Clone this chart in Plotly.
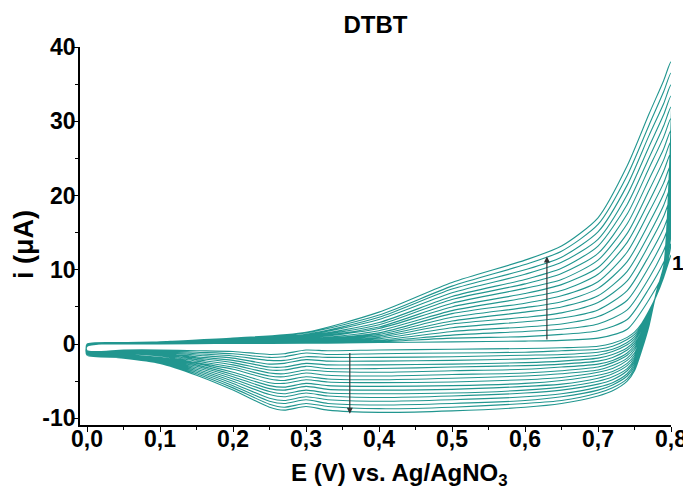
import plotly.graph_objects as go

# Potentials (V vs Ag/AgNO3)
E_forward = [0.00, 0.10, 0.20, 0.30, 0.40, 0.50, 0.60, 0.65, 0.70, 0.74, 0.77, 0.79, 0.80]
E_reverse = [0.795, 0.79, 0.78, 0.77, 0.76, 0.75, 0.74, 0.72, 0.70, 0.65, 0.60, 0.50,
             0.40, 0.33, 0.30, 0.27, 0.25, 0.20, 0.15, 0.10, 0.05, 0.00]

# Anodic (forward) currents, µA, cycles 1..18
fwd_c01 = [0.0, 0.0, 0.1, 0.1, 0.2, 0.3, 0.4, 0.5, 0.8, 2.0, 6.0, 9.5, 12.0]
fwd_c02 = [0.0, 0.0, 0.1, 0.1, 0.3, 0.8, 1.0, 1.3, 1.8, 3.3, 7.5, 11.0, 13.5]
fwd_c03 = [-0.1, 0.0, 0.1, 0.2, 0.4, 1.2, 1.7, 2.0, 2.7, 4.6, 8.9, 12.6, 15.1]
fwd_c04 = [-0.1, 0.0, 0.1, 0.2, 0.5, 1.7, 2.3, 2.7, 3.7, 5.9, 10.4, 14.1, 16.6]
fwd_c05 = [-0.1, 0.0, 0.1, 0.3, 0.7, 2.2, 3.0, 3.5, 4.6, 7.2, 11.9, 15.6, 18.1]
fwd_c06 = [-0.1, 0.1, 0.2, 0.3, 0.9, 2.7, 3.6, 4.2, 5.6, 8.5, 13.4, 17.2, 19.7]
fwd_c07 = [-0.1, 0.1, 0.2, 0.4, 1.1, 3.1, 4.3, 5.0, 6.5, 9.8, 14.8, 18.7, 21.2]
fwd_c08 = [-0.2, 0.1, 0.3, 0.5, 1.3, 3.6, 4.9, 5.7, 7.5, 11.1, 16.3, 20.2, 22.7]
fwd_c09 = [-0.2, 0.1, 0.3, 0.6, 1.5, 4.1, 5.5, 6.5, 8.4, 12.4, 17.8, 21.7, 24.2]
fwd_c10 = [-0.2, 0.1, 0.3, 0.7, 1.8, 4.5, 6.2, 7.2, 9.4, 13.7, 19.2, 23.3, 25.8]
fwd_c11 = [-0.2, 0.1, 0.4, 0.8, 2.1, 5.0, 6.8, 8.0, 10.3, 14.9, 20.7, 24.8, 27.3]
fwd_c12 = [-0.2, 0.2, 0.4, 0.9, 2.3, 5.5, 7.5, 8.7, 11.3, 16.2, 22.2, 26.3, 28.8]
fwd_c13 = [-0.2, 0.2, 0.5, 1.0, 2.6, 6.0, 8.1, 9.5, 12.2, 17.5, 23.7, 27.9, 30.4]
fwd_c14 = [-0.3, 0.2, 0.6, 1.1, 2.9, 6.4, 8.7, 10.2, 13.2, 18.8, 25.1, 29.4, 31.9]
fwd_c15 = [-0.3, 0.2, 0.6, 1.2, 3.3, 6.9, 9.4, 11.0, 14.1, 20.1, 26.6, 30.9, 33.4]
fwd_c16 = [-0.3, 0.3, 0.7, 1.3, 3.6, 7.4, 10.0, 11.7, 15.1, 21.4, 28.1, 32.4, 34.9]
fwd_c17 = [-0.3, 0.3, 0.7, 1.5, 3.9, 7.8, 10.7, 12.5, 16.1, 22.7, 29.5, 34.0, 36.5]
fwd_c18 = [-0.3, 0.3, 0.8, 1.6, 4.3, 8.3, 11.3, 13.2, 17.0, 24.0, 31.0, 35.5, 38.0]

# Cathodic (reverse) currents, µA, cycles 1..18
rev_c01 = [10.5, 9.0, 6.5, 4.5, 2.8, 1.6, 0.9, 0.1, -0.3, -0.5, -0.6, -0.7, -0.8, -0.9, -0.8, -1.3, -1.4, -1.0, -0.9, -0.8, -0.8, -0.9]
rev_c02 = [10.9, 9.1, 6.5, 4.4, 2.6, 1.3, 0.6, -0.3, -0.7, -0.9, -1.1, -1.2, -1.3, -1.4, -1.2, -1.7, -1.8, -1.3, -1.1, -0.9, -0.9, -0.9]
rev_c03 = [11.3, 9.2, 6.6, 4.3, 2.4, 1.0, 0.2, -0.7, -1.1, -1.4, -1.5, -1.7, -1.8, -1.8, -1.7, -2.2, -2.2, -1.6, -1.3, -1.0, -0.9, -1.0]
rev_c04 = [11.6, 9.3, 6.6, 4.1, 2.2, 0.7, -0.1, -1.0, -1.5, -1.8, -2.0, -2.2, -2.3, -2.3, -2.1, -2.6, -2.7, -1.9, -1.5, -1.1, -1.0, -1.0]
rev_c05 = [12.0, 9.4, 6.6, 4.0, 2.0, 0.4, -0.5, -1.4, -1.9, -2.3, -2.5, -2.7, -2.8, -2.8, -2.6, -3.1, -3.1, -2.2, -1.7, -1.2, -1.1, -1.0]
rev_c06 = [12.4, 9.4, 6.6, 3.9, 1.7, 0.1, -0.8, -1.8, -2.3, -2.7, -2.9, -3.1, -3.3, -3.3, -3.0, -3.5, -3.5, -2.5, -1.9, -1.3, -1.1, -1.1]
rev_c07 = [12.8, 9.5, 6.7, 3.8, 1.5, -0.2, -1.2, -2.2, -2.7, -3.1, -3.4, -3.6, -3.8, -3.7, -3.5, -4.0, -3.9, -2.8, -2.1, -1.4, -1.2, -1.1]
rev_c08 = [13.2, 9.6, 6.7, 3.7, 1.3, -0.5, -1.5, -2.5, -3.1, -3.6, -3.9, -4.1, -4.3, -4.2, -3.9, -4.4, -4.3, -3.1, -2.3, -1.5, -1.3, -1.1]
rev_c09 = [13.6, 9.7, 6.7, 3.6, 1.1, -0.8, -1.9, -2.9, -3.5, -4.0, -4.3, -4.6, -4.8, -4.7, -4.4, -4.9, -4.7, -3.4, -2.5, -1.6, -1.3, -1.2]
rev_c10 = [13.9, 9.8, 6.8, 3.4, 0.9, -1.2, -2.2, -3.3, -3.8, -4.5, -4.8, -5.1, -5.2, -5.1, -4.8, -5.3, -5.2, -3.8, -2.6, -1.8, -1.4, -1.2]
rev_c11 = [14.3, 9.9, 6.8, 3.3, 0.7, -1.5, -2.6, -3.7, -4.2, -4.9, -5.3, -5.6, -5.7, -5.6, -5.3, -5.8, -5.6, -4.1, -2.8, -1.9, -1.5, -1.3]
rev_c12 = [14.7, 10.0, 6.8, 3.2, 0.5, -1.8, -2.9, -4.0, -4.6, -5.4, -5.7, -6.1, -6.2, -6.1, -5.7, -6.2, -6.0, -4.4, -3.0, -2.0, -1.5, -1.3]
rev_c13 = [15.1, 10.1, 6.8, 3.1, 0.3, -2.1, -3.3, -4.4, -5.0, -5.8, -6.2, -6.6, -6.7, -6.6, -6.2, -6.7, -6.4, -4.7, -3.2, -2.1, -1.6, -1.3]
rev_c14 = [15.5, 10.1, 6.9, 3.0, 0.0, -2.4, -3.6, -4.8, -5.4, -6.2, -6.6, -7.0, -7.2, -7.0, -6.6, -7.1, -6.8, -5.0, -3.4, -2.2, -1.6, -1.4]
rev_c15 = [15.8, 10.2, 6.9, 2.8, -0.2, -2.7, -4.0, -5.2, -5.8, -6.7, -7.1, -7.5, -7.7, -7.5, -7.1, -7.6, -7.3, -5.3, -3.6, -2.3, -1.7, -1.4]
rev_c16 = [16.2, 10.3, 6.9, 2.7, -0.4, -3.0, -4.3, -5.5, -6.2, -7.1, -7.6, -8.0, -8.2, -8.0, -7.5, -8.0, -7.7, -5.6, -3.8, -2.4, -1.8, -1.4]
rev_c17 = [16.6, 10.4, 7.0, 2.6, -0.6, -3.3, -4.7, -5.9, -6.6, -7.6, -8.0, -8.5, -8.7, -8.4, -8.0, -8.5, -8.1, -5.9, -4.0, -2.5, -1.8, -1.5]
rev_c18 = [17.0, 10.5, 7.0, 2.5, -0.8, -3.6, -5.0, -6.3, -7.0, -8.0, -8.5, -9.0, -9.2, -8.9, -8.4, -8.9, -8.5, -6.2, -4.2, -2.6, -1.9, -1.5]

x_tickvals = [0.0, 0.1, 0.2, 0.3, 0.4, 0.5, 0.6, 0.7, 0.8]
x_ticktext = ["0,0", "0,1", "0,2", "0,3", "0,4", "0,5", "0,6", "0,7", "0,8"]
y_tickvals = [-10, 0, 10, 20, 30, 40]
y_ticktext = ["-10", "0", "10", "20", "30", "40"]

forward_cycles = [fwd_c01, fwd_c02, fwd_c03, fwd_c04, fwd_c05, fwd_c06, fwd_c07, fwd_c08, fwd_c09,
                  fwd_c10, fwd_c11, fwd_c12, fwd_c13, fwd_c14, fwd_c15, fwd_c16, fwd_c17, fwd_c18]
reverse_cycles = [rev_c01, rev_c02, rev_c03, rev_c04, rev_c05, rev_c06, rev_c07, rev_c08, rev_c09,
                  rev_c10, rev_c11, rev_c12, rev_c13, rev_c14, rev_c15, rev_c16, rev_c17, rev_c18]

LINE = "#21968f"
FONT = "Liberation Sans, Arial, sans-serif"

x_all, y_all = [], []
for f, r in zip(forward_cycles, reverse_cycles):
    x_all += E_forward + E_reverse
    y_all += f + r

fig = go.Figure()
fig.add_trace(go.Scatter(x=x_all, y=y_all, mode="lines",
                         line=dict(color=LINE, width=1.1, shape="spline", smoothing=0.7),
                         hoverinfo="skip", showlegend=False))

# arrows
fig.add_annotation(x=0.63, y=11.8, ax=0.63, ay=0.4, xref="x", yref="y", axref="x", ayref="y",
                   showarrow=True, arrowhead=2, arrowsize=1, arrowwidth=1.2, arrowcolor="#333333", text="")
fig.add_annotation(x=0.36, y=-9.4, ax=0.36, ay=-1.0, xref="x", yref="y", axref="x", ayref="y",
                   showarrow=True, arrowhead=2, arrowsize=1, arrowwidth=1.2, arrowcolor="#333333", text="")
# cycle label (paper coords so it is not hidden outside the x range)
fig.add_annotation(x=1.0, y=0.429, xref="paper", yref="paper", text="1", showarrow=False,
                   xanchor="left", yanchor="middle", xshift=0, borderpad=0,
                   font=dict(family=FONT, size=21, color="black", weight="bold"))

# axis titles as annotations
fig.add_annotation(x=-0.0948, y=0.479, xref="paper", yref="paper", text="i (μA)", textangle=-90,
                   xanchor="center", yanchor="middle", showarrow=False,
                   font=dict(family=FONT, size=27, color="black", weight="bold"))
fig.add_annotation(x=0.54, y=-0.132, xref="paper", yref="paper",
                   text="E (V) vs. Ag/AgNO<sub>3</sub>", showarrow=False,
                   xanchor="center", yanchor="middle",
                   font=dict(family=FONT, size=24, color="black", weight="bold"))

# the page body adds an 8 px offset, so the figure is drawn 8 px smaller
fig.update_layout(
    width=683, height=483,
    margin=dict(l=72, r=20, t=39, b=66, autoexpand=False),
    paper_bgcolor="white", plot_bgcolor="white",
    title=dict(text="DTBT", x=0.5, xref="paper", xanchor="center", y=1 - 17 / 483, yanchor="middle",
               font=dict(family=FONT, size=24, color="black", weight="bold")),
    xaxis=dict(range=[-0.0096, 0.8], tickvals=x_tickvals, ticktext=x_ticktext, automargin=False,
               showgrid=False, zeroline=False, showline=True, linecolor="black", linewidth=1.6,
               ticks="outside", ticklen=5, tickwidth=1.4, tickcolor="black", ticklabelstandoff=-12,
               tickfont=dict(family=FONT, size=23, color="black", weight="bold"),
               minor=dict(ticks="outside", ticklen=3, tickwidth=1.2, tickcolor="black", dtick=0.05,
                          tick0=0.0, showgrid=False)),
    yaxis=dict(range=[-10.9, 40], tickvals=y_tickvals, ticktext=y_ticktext, automargin=False,
               showgrid=False, zeroline=False, showline=True, linecolor="black", linewidth=1.6,
               ticks="outside", ticklen=5, tickwidth=1.4, tickcolor="black", ticklabelstandoff=-7,
               tickfont=dict(family=FONT, size=23, color="black", weight="bold"),
               minor=dict(ticks="outside", ticklen=3, tickwidth=1.2, tickcolor="black", dtick=5,
                          tick0=0, showgrid=False)),
)

fig.write_html("out.html")
